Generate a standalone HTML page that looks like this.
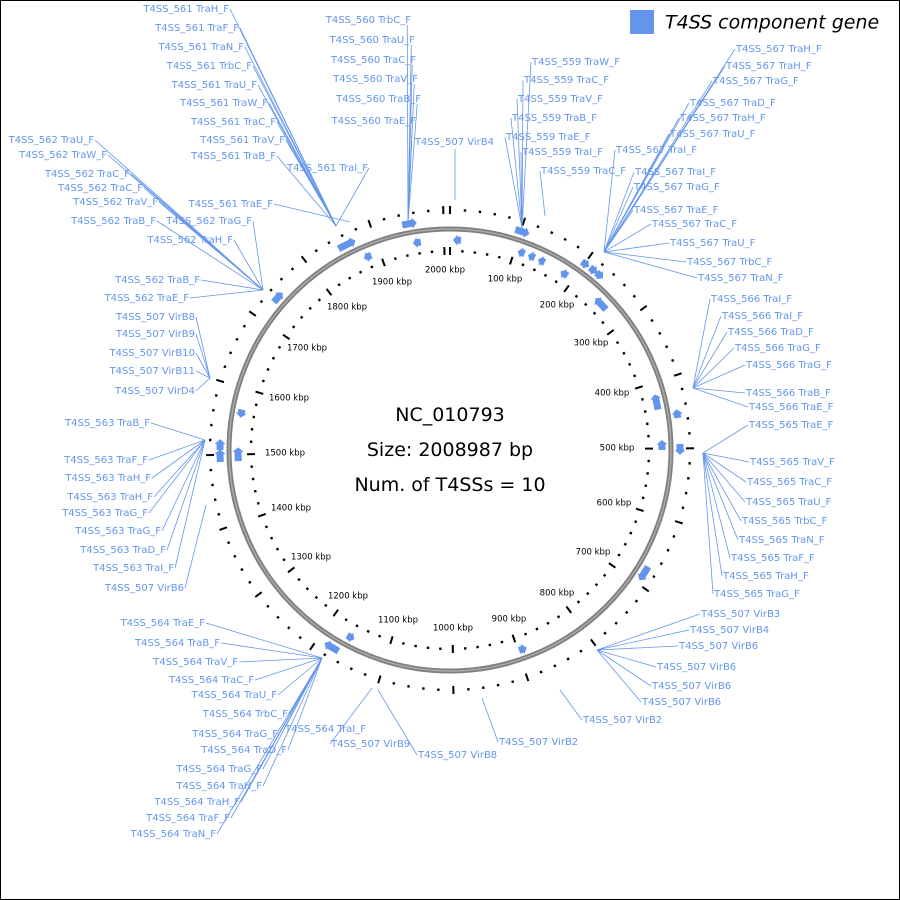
<!DOCTYPE html>
<html><head><meta charset="utf-8"><style>
html,body{margin:0;padding:0;background:#fff;}
svg{display:block}
.l{font-family:"DejaVu Sans","Liberation Sans",sans-serif;font-size:10px;fill:#6495ed;dominant-baseline:middle}
.k{font-family:"DejaVu Sans","Liberation Sans",sans-serif;font-size:8.5px;fill:#000;text-anchor:middle;dominant-baseline:middle}
.e{text-anchor:end}
</style></head><body>
<svg id="s" width="900" height="900" viewBox="0 0 900 900" xmlns="http://www.w3.org/2000/svg">
<rect x="0.5" y="0.5" width="899" height="899" fill="#fff" stroke="#000"/>
<circle cx="450" cy="450" r="221" fill="none" stroke="#808080" stroke-width="5"/>
<circle cx="450" cy="450" r="221" fill="none" stroke="#a8a8a8" stroke-width="1.5"/>
<g id="ticks" stroke="#000"></g>
<g id="genes" fill="#6495ed"></g>
<g id="lines" stroke="#6495ed" stroke-width="0.8" fill="none"></g>
<rect x="630" y="10" width="24" height="24" fill="#6495ed"/>
<text x="665" y="23" font-family="DejaVu Sans,Liberation Sans,sans-serif" font-size="19" font-style="italic" dominant-baseline="middle">T4SS component gene</text>
<g font-family="DejaVu Sans,Liberation Sans,sans-serif" font-size="19" text-anchor="middle">
<text x="450" y="421">NC_010793</text>
<text x="450" y="456">Size: 2008987 bp</text>
<text x="450" y="491">Num. of T4SSs = 10</text>
</g>
<text class="k" x="505" y="279">100 kbp</text><text class="k" x="557" y="305">200 kbp</text>
<text class="k" x="591" y="343">300 kbp</text><text class="k" x="612" y="393">400 kbp</text>
<text class="k" x="617" y="448">500 kbp</text><text class="k" x="614" y="503">600 kbp</text>
<text class="k" x="593" y="552">700 kbp</text><text class="k" x="557" y="593">800 kbp</text>
<text class="k" x="509" y="619">900 kbp</text><text class="k" x="453" y="628">1000 kbp</text>
<text class="k" x="398" y="620">1100 kbp</text><text class="k" x="348" y="596">1200 kbp</text>
<text class="k" x="311" y="557">1300 kbp</text><text class="k" x="291" y="508">1400 kbp</text>
<text class="k" x="285" y="453">1500 kbp</text><text class="k" x="289" y="398">1600 kbp</text>
<text class="k" x="307" y="348">1700 kbp</text><text class="k" x="347" y="307">1800 kbp</text>
<text class="k" x="392" y="282">1900 kbp</text><text class="k" x="445" y="270">2000 kbp</text>
<g id="labels">
<text class="l e" x="229" y="9">T4SS_561 TraH_F</text>
<text class="l e" x="239" y="28">T4SS_561 TraF_F</text>
<text class="l e" x="244" y="47">T4SS_561 TraN_F</text>
<text class="l e" x="252" y="66">T4SS_561 TrbC_F</text>
<text class="l e" x="257" y="85">T4SS_561 TraU_F</text>
<text class="l e" x="268" y="103">T4SS_561 TraW_F</text>
<text class="l e" x="276" y="122">T4SS_561 TraC_F</text>
<text class="l e" x="285" y="140">T4SS_561 TraV_F</text>
<text class="l e" x="276" y="156">T4SS_561 TraB_F</text>
<text class="l e" x="368" y="168">T4SS_561 TraI_F</text>
<text class="l e" x="273" y="204">T4SS_561 TraE_F</text>
<text class="l e" x="411" y="20">T4SS_560 TrbC_F</text>
<text class="l e" x="415" y="40">T4SS_560 TraU_F</text>
<text class="l e" x="416" y="60">T4SS_560 TraC_F</text>
<text class="l e" x="418" y="79">T4SS_560 TraV_F</text>
<text class="l e" x="421" y="99">T4SS_560 TraB_F</text>
<text class="l e" x="416" y="121">T4SS_560 TraE_F</text>
<text class="l e" x="494" y="142">T4SS_507 VirB4</text>
<text class="l" x="532" y="62">T4SS_559 TraW_F</text>
<text class="l" x="524" y="80">T4SS_559 TraC_F</text>
<text class="l" x="518" y="99">T4SS_559 TraV_F</text>
<text class="l" x="512" y="118">T4SS_559 TraB_F</text>
<text class="l" x="506" y="137">T4SS_559 TraE_F</text>
<text class="l" x="522" y="152">T4SS_559 TraI_F</text>
<text class="l" x="541" y="171">T4SS_559 TraC_F</text>
<text class="l" x="736" y="49">T4SS_567 TraH_F</text>
<text class="l" x="726" y="66">T4SS_567 TraH_F</text>
<text class="l" x="713" y="81">T4SS_567 TraG_F</text>
<text class="l" x="690" y="103">T4SS_567 TraD_F</text>
<text class="l" x="680" y="118">T4SS_567 TraH_F</text>
<text class="l" x="670" y="134">T4SS_567 TraU_F</text>
<text class="l" x="616" y="150">T4SS_567 TraI_F</text>
<text class="l" x="635" y="172">T4SS_567 TraI_F</text>
<text class="l" x="634" y="187">T4SS_567 TraG_F</text>
<text class="l" x="634" y="210">T4SS_567 TraE_F</text>
<text class="l" x="652" y="224">T4SS_567 TraC_F</text>
<text class="l" x="670" y="243">T4SS_567 TraU_F</text>
<text class="l" x="687" y="262">T4SS_567 TrbC_F</text>
<text class="l" x="698" y="278">T4SS_567 TraN_F</text>
<text class="l" x="711" y="299">T4SS_566 TraI_F</text>
<text class="l" x="722" y="316">T4SS_566 TraI_F</text>
<text class="l" x="728" y="332">T4SS_566 TraD_F</text>
<text class="l" x="735" y="348">T4SS_566 TraG_F</text>
<text class="l" x="746" y="365">T4SS_566 TraG_F</text>
<text class="l" x="746" y="393">T4SS_566 TraB_F</text>
<text class="l" x="749" y="407">T4SS_566 TraE_F</text>
<text class="l" x="749" y="425">T4SS_565 TraE_F</text>
<text class="l" x="750" y="462">T4SS_565 TraV_F</text>
<text class="l" x="747" y="482">T4SS_565 TraC_F</text>
<text class="l" x="746" y="502">T4SS_565 TraU_F</text>
<text class="l" x="742" y="521">T4SS_565 TrbC_F</text>
<text class="l" x="739" y="540">T4SS_565 TraN_F</text>
<text class="l" x="731" y="558">T4SS_565 TraF_F</text>
<text class="l" x="723" y="576">T4SS_565 TraH_F</text>
<text class="l" x="714" y="594">T4SS_565 TraG_F</text>
<text class="l" x="701" y="614">T4SS_507 VirB3</text>
<text class="l" x="690" y="630">T4SS_507 VirB4</text>
<text class="l" x="679" y="646">T4SS_507 VirB6</text>
<text class="l" x="657" y="667">T4SS_507 VirB6</text>
<text class="l" x="652" y="686">T4SS_507 VirB6</text>
<text class="l" x="642" y="702">T4SS_507 VirB6</text>
<text class="l" x="583" y="720">T4SS_507 VirB2</text>
<text class="l" x="499" y="742">T4SS_507 VirB2</text>
<text class="l" x="418" y="755">T4SS_507 VirB8</text>
<text class="l" x="331" y="744">T4SS_507 VirB9</text>
<text class="l e" x="94" y="140">T4SS_562 TraU_F</text>
<text class="l e" x="107" y="155">T4SS_562 TraW_F</text>
<text class="l e" x="130" y="174">T4SS_562 TraC_F</text>
<text class="l e" x="143" y="188">T4SS_562 TraC_F</text>
<text class="l e" x="158" y="202">T4SS_562 TraV_F</text>
<text class="l e" x="156" y="221">T4SS_562 TraB_F</text>
<text class="l e" x="252" y="221">T4SS_562 TraG_F</text>
<text class="l e" x="233" y="240">T4SS_562 TraH_F</text>
<text class="l e" x="200" y="280">T4SS_562 TraB_F</text>
<text class="l e" x="189" y="298">T4SS_562 TraE_F</text>
<text class="l e" x="195" y="317">T4SS_507 VirB8</text>
<text class="l e" x="195" y="334">T4SS_507 VirB9</text>
<text class="l e" x="195" y="353">T4SS_507 VirB10</text>
<text class="l e" x="195" y="371">T4SS_507 VirB11</text>
<text class="l e" x="195" y="391">T4SS_507 VirD4</text>
<text class="l e" x="150" y="423">T4SS_563 TraB_F</text>
<text class="l e" x="148" y="460">T4SS_563 TraF_F</text>
<text class="l e" x="151" y="478">T4SS_563 TraH_F</text>
<text class="l e" x="153" y="497">T4SS_563 TraH_F</text>
<text class="l e" x="148" y="513">T4SS_563 TraG_F</text>
<text class="l e" x="161" y="531">T4SS_563 TraG_F</text>
<text class="l e" x="166" y="550">T4SS_563 TraD_F</text>
<text class="l e" x="174" y="568">T4SS_563 TraI_F</text>
<text class="l e" x="184" y="588">T4SS_507 VirB6</text>
<text class="l e" x="205" y="623">T4SS_564 TraE_F</text>
<text class="l e" x="220" y="643">T4SS_564 TraB_F</text>
<text class="l e" x="238" y="662">T4SS_564 TraV_F</text>
<text class="l e" x="254" y="680">T4SS_564 TraC_F</text>
<text class="l e" x="277" y="695">T4SS_564 TraU_F</text>
<text class="l e" x="288" y="714">T4SS_564 TrbC_F</text>
<text class="l e" x="278" y="734">T4SS_564 TraG_F</text>
<text class="l e" x="287" y="750">T4SS_564 TraD_F</text>
<text class="l" x="285" y="729">T4SS_564 TraI_F</text>
<text class="l e" x="262" y="769">T4SS_564 TraG_F</text>
<text class="l e" x="262" y="786">T4SS_564 TraH_F</text>
<text class="l e" x="240" y="802">T4SS_564 TraH_F</text>
<text class="l e" x="230" y="818">T4SS_564 TraF_F</text>
<text class="l e" x="216" y="834">T4SS_564 TraN_F</text>
</g>
</svg>
<script>
(function(){
var NS="http://www.w3.org/2000/svg",cx=450,cy=450,T=2008987;
function P(a,r){var t=a*Math.PI/180;return [cx+r*Math.sin(t),cy-r*Math.cos(t)];}
var tg=document.getElementById('ticks');
function ln(g,a,b,w,c){var l=document.createElementNS(NS,'line');l.setAttribute('x1',a[0]);l.setAttribute('y1',a[1]);l.setAttribute('x2',b[0]);l.setAttribute('y2',b[1]);if(w)l.setAttribute('stroke-width',w);if(c)l.setAttribute('stroke',c);g.appendChild(l);}
for(var bp=0;bp<T;bp+=20000){var a=bp/T*360,maj=bp%100000==0;
 [240,199].forEach(function(r){ if(maj) ln(tg,P(a,r-4),P(a,r+4),2); else ln(tg,P(a,r-1.2),P(a,r+1.2),2.4);});}
[240,199].forEach(function(r){ln(tg,P(360,r-4),P(360,r+4),2);});
var gg=document.getElementById('genes');
function gene(a,len,r,dir){var h=3.5;var a1=a,a2=a+len;var tip=dir>0?a2+1.2:a1-1.2;
 var s=dir>0?[a1,a2]:[a2,a1];
 var p=[P(s[0],r-h),P(s[1],r-h),P(s[1],r-h-2),P(tip,r),P(s[1],r+h+2),P(s[1],r+h),P(s[0],r+h)];
 var pg=document.createElementNS(NS,'polygon');pg.setAttribute('points',p.map(function(q){return q.join(',')}).join(' '));gg.appendChild(pg);}
gene(-29,3.5,230,1);gene(-12,2.5,230,1);gene(16.5,2.5,230,1);
gene(35,1,230,1);gene(37.5,1,230,1);gene(39.5,1,230,1);
gene(88.5,1.5,230,1);gene(120.5,2.8,230,1);gene(-151,2.8,230,1);
gene(-93,2,230,1);gene(-50,2,230,1);gene(-90,1.5,230,1);
gene(-9,1,210,-1);gene(2,1,210,-1);gene(-23,1,210,-1);
gene(20,0.8,210,-1);gene(23,0.8,210,-1);gene(26,0.8,210,-1);gene(33,1,210,-1);gene(45,3,210,-1);
gene(76,3,212,-1);gene(88.5,1.5,212,-1);gene(160,1,212,-1);gene(-152,1,212,-1);
gene(-93,2.5,212,1);gene(-80,1,212,-1);gene(81,1,230,-1);
var lg=document.getElementById('lines');
var labs=document.querySelectorAll('#labels text');
var targ=[
[[0,9],[336,226]],[[10,10],[350,222]],[[11,16],[408,222]],[[17,17],[455,200]],
[[18,23],[522,228]],[[24,24],[545,216]],[[25,38],[604,252]],[[39,45],[693,388]],
[[46,54],[703,453]],[[55,60],[597,650]],[[61,61],[560,690]],[[62,62],[482,698]],
[[63,63],[378,690]],[[64,64],[372,688]],[[65,74],[263,290]],[[75,79],[210,378]],
[[80,87],[205,440]],[[88,88],[206,505]],[[89,102],[322,658]]];
targ.forEach(function(t){for(var i=t[0][0];i<=t[0][1];i++){var el=labs[i];if(!el)continue;
 var x=+el.getAttribute('x'),y=+el.getAttribute('y');var end=el.classList.contains('e');
 var sx=end?x+1:x-1;var sy=y;
 if(i>=11&&i<=16){var bb=el.getBBox();sx=bb.x+bb.width-4;sy=y+5;}
 if(i==17){sx=455;sy=149;}
 ln(lg,[sx,sy],t[1]);}});
})();
</script>
</body></html>
